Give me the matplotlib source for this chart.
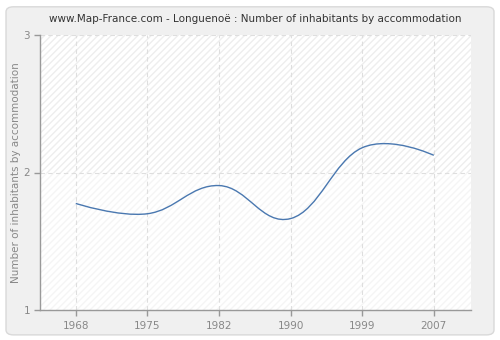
import matplotlib
matplotlib.use('Agg')
import matplotlib.pyplot as plt
from matplotlib.path import Path
from matplotlib.patches import PathPatch, FancyBboxPatch

years = [1968, 1975, 1982, 1990, 1999, 2007]
values = [1.775, 1.70, 1.905, 1.665, 2.18, 2.125]
title = "www.Map-France.com - Longuenoë : Number of inhabitants by accommodation"
ylabel = "Number of inhabitants by accommodation"


def spline_path(xs, ys, smoothing=1.5):
    # smooth cubic bezier through the points (highcharts-style spline)
    n = len(xs)
    left = []
    right = []
    denom = smoothing + 1
    for i in range(n):
        x, y = xs[i], ys[i]
        if i == 0 or i == n - 1:
            left.append((x, y))
            right.append((x, y))
            continue
        lx = (smoothing * x + xs[i - 1]) / denom
        ly = (smoothing * y + ys[i - 1]) / denom
        rx = (smoothing * x + xs[i + 1]) / denom
        ry = (smoothing * y + ys[i + 1]) / denom
        corr = (ry - ly) * (rx - x) / (rx - lx) + y - ry
        left.append((lx, ly + corr))
        right.append((rx, ry + corr))
    verts = [(xs[0], ys[0])]
    codes = [Path.MOVETO]
    for i in range(1, n):
        verts += [right[i - 1], left[i], (xs[i], ys[i])]
        codes += [Path.CURVE4] * 3
    return Path(verts, codes)


fig = plt.figure(figsize=(5, 3.4), dpi=100, facecolor='white')
bg = FancyBboxPatch((0.012, 0.015), 0.976, 0.965, boxstyle='round,pad=0,rounding_size=0.015',
                    transform=fig.transFigure, facecolor='#f0f0f0', edgecolor='#d9d9d9',
                    linewidth=1.0, zorder=-10)
fig.patches.append(bg)

ax = fig.add_axes([40 / 500, 30 / 340, 431 / 500, 275 / 340])
ax.set_facecolor('white')
ax.axhspan(2, 3, facecolor='white', edgecolor='#eeeeee', hatch='/////', linewidth=0, zorder=0)
ax.axhspan(1, 2, facecolor='white', edgecolor='#f5f5f5', hatch='/////', linewidth=0, zorder=0)

# categorical x positions, evenly spaced
xpos = list(range(len(years)))
ax.add_patch(PathPatch(spline_path(xpos, values), facecolor='none', edgecolor='#4a78b0',
                       linewidth=1.0, zorder=3))

ax.set_xlim(-0.5, 5.52)
ax.set_ylim(1, 3)
ax.set_xticks(xpos)
ax.set_xticklabels([str(y) for y in years])
ax.set_yticks([1, 2, 3])
ax.grid(True, color='#dedede', linestyle=(0, (4, 3)), linewidth=0.8, zorder=1)
ax.set_axisbelow(True)

for s in ['top', 'right']:
    ax.spines[s].set_visible(False)
for s in ['left', 'bottom']:
    ax.spines[s].set_color('#999999')
    ax.spines[s].set_linewidth(1.0)

ax.tick_params(axis='both', colors='#999999', labelcolor='#888888', labelsize=7.5, length=4, width=1)
ax.tick_params(axis='x', pad=4)
ax.tick_params(axis='y', pad=3)

ax.set_title(title, fontsize=7.5, color='#333333', pad=9)
ax.set_ylabel(ylabel, fontsize=7.5, color='#888888', labelpad=2)

fig.savefig('out.png', dpi=100, facecolor='white')
